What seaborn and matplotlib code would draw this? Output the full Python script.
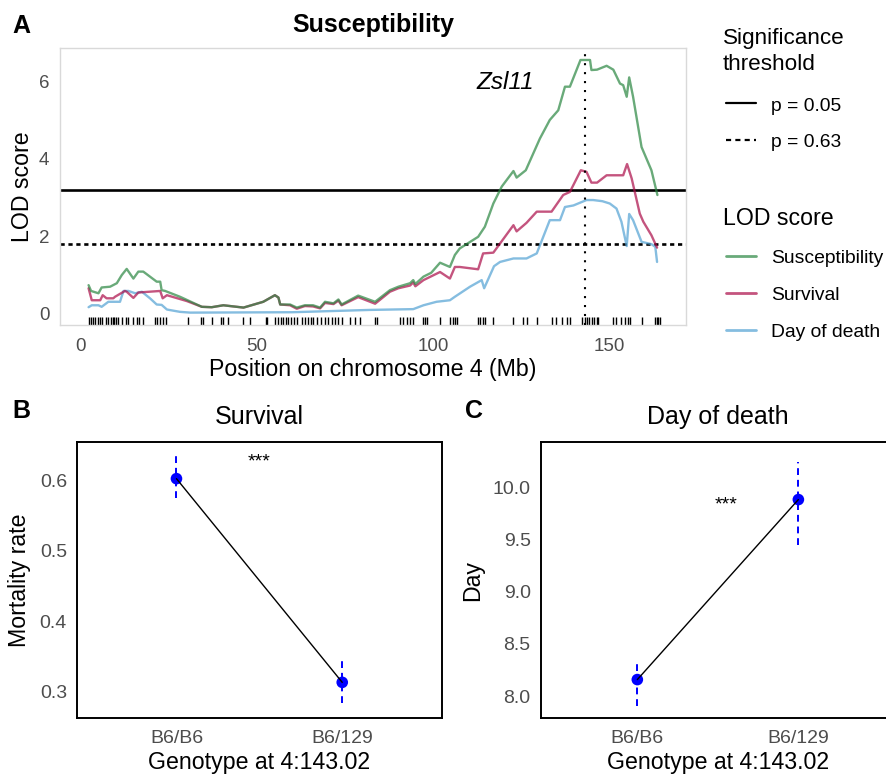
import matplotlib
matplotlib.use("Agg")
import matplotlib.pyplot as plt
import pandas as pd
import seaborn as sns

# ---------------- data ----------------
# LOD curves along chromosome 4 (Mb, LOD)
susc_pos = [2.4, 3.1, 5.2, 6.1, 8.5, 10.4, 11.8, 13.2, 15.1, 16.5, 17.9, 21.7, 22.7, 23.1, 24.1,
            28.3, 34.5, 37.3, 40.6, 46.3, 51.9, 55.2, 56.2, 56.7, 59.5, 61.4, 63.7, 66.0, 68.0,
            69.4, 71.8, 73.2, 74.1, 78.8, 83.6, 87.8, 90.2, 93.5, 94.4, 95.0, 97.3, 99.5, 102.0,
            104.8, 106.2, 107.6, 112.8, 114.7, 117.1, 119.5, 122.8, 123.7, 126.3, 130.3, 133.1,
            135.5, 137.4, 138.8, 141.8, 144.5, 144.9, 146.5, 149.2, 151.1, 153.0, 153.9, 154.9,
            155.6, 156.7, 159.1, 161.9, 163.6]
susc_lod = [0.73, 0.58, 0.52, 0.67, 0.69, 0.78, 0.99, 1.15, 0.90, 1.08, 1.08, 0.82, 0.82, 0.60, 0.58,
            0.43, 0.17, 0.16, 0.21, 0.15, 0.30, 0.47, 0.41, 0.23, 0.23, 0.15, 0.21, 0.21, 0.15,
            0.30, 0.26, 0.36, 0.23, 0.46, 0.30, 0.60, 0.69, 0.78, 0.86, 0.76, 0.95, 1.05, 1.31,
            1.20, 1.51, 1.68, 1.98, 2.24, 2.84, 3.28, 3.68, 3.51, 3.70, 4.52, 5.00,
            5.25, 5.86, 5.86, 6.55, 6.55, 6.29, 6.30, 6.40, 6.30, 5.94, 5.90, 5.60,
            6.10, 5.60, 4.30, 3.70, 3.06]

surv_pos = [2.4, 3.3, 5.7, 6.4, 7.5, 9.4, 9.9, 12.7, 13.2, 15.1, 16.5, 22.7, 23.4, 24.6, 30.2,
            34.5, 37.3, 40.6, 46.3, 51.9, 55.2, 56.2, 56.7, 59.5, 61.4, 63.7, 66.0, 68.0, 69.4,
            71.8, 73.2, 74.1, 78.8, 83.6, 87.8, 90.2, 93.5, 94.4, 95.0, 97.3, 102.0, 104.8, 106.2,
            107.6, 112.8, 114.2, 117.1, 122.8, 123.7, 126.5, 129.4, 133.6, 136.9, 138.8, 141.9,
            143.5, 144.9, 146.5, 149.2, 153.9, 155.0, 156.3, 158.6, 159.6, 161.9, 163.5]
surv_lod = [0.65, 0.34, 0.34, 0.47, 0.39, 0.39, 0.43, 0.58, 0.56, 0.40, 0.54, 0.58, 0.39, 0.47, 0.32,
            0.17, 0.16, 0.21, 0.15, 0.30, 0.47, 0.41, 0.23, 0.21, 0.12, 0.19, 0.18, 0.13, 0.27,
            0.24, 0.33, 0.21, 0.42, 0.25, 0.56, 0.65, 0.72, 0.80, 0.70, 0.86, 1.07, 0.90, 1.20,
            1.20, 1.14, 1.55, 1.57, 2.28, 2.12, 2.34, 2.63, 2.63, 3.06, 3.14, 3.70,
            3.66, 3.38, 3.38, 3.57, 3.57, 3.86, 3.49, 2.58, 2.37, 2.02, 1.70]

dod_pos = [2.4, 3.3, 5.2, 6.1, 8.0, 9.7, 11.3, 12.3, 13.7, 15.6, 17.5, 19.8, 21.7, 23.1, 24.6,
           28.3, 31.2, 60.0, 82.2, 94.4, 97.3, 101.0, 104.8, 106.2, 110.5, 113.8, 114.5, 117.3,
           119.0, 122.8, 126.5, 129.4, 133.1, 136.0, 137.4, 139.8, 143.5, 145.4, 148.0, 150.1,
           152.0, 153.4, 154.9, 155.6, 156.7, 159.1, 161.9, 163.0, 163.5]
dod_lod = [0.16, 0.21, 0.21, 0.17, 0.30, 0.30, 0.30, 0.58, 0.58, 0.52, 0.56, 0.39, 0.23, 0.22, 0.10,
           0.04, 0.02, 0.03, 0.09, 0.11, 0.21, 0.30, 0.34, 0.43, 0.69, 0.86, 0.65, 1.22,
           1.33, 1.42, 1.42, 1.55, 2.41, 2.41, 2.75, 2.79, 2.93, 2.93, 2.90, 2.84,
           2.71, 2.37, 1.74, 2.57, 2.41, 1.85, 1.79, 1.72, 1.33]

# genotyped marker positions (rug)
marker_pos = [2.4, 3.0, 3.7, 4.3, 5.0, 5.7, 6.3, 7.4, 8.0, 8.7, 9.2, 9.6, 10.1, 10.6, 11.8, 13.0,
              13.7, 15.1, 16.1, 16.8, 17.9, 21.3, 21.9, 22.7, 23.4, 24.3, 30.7, 34.3, 34.9, 37.3,
              39.9, 40.6, 42.0, 46.3, 48.2, 52.6, 53.1, 55.2, 56.2, 56.8, 57.6, 58.4, 59.0, 59.7,
              60.6, 61.6, 62.8, 63.7, 64.7, 65.4, 66.1, 67.0, 68.2, 69.4, 70.3, 71.3, 72.1, 73.2,
              74.1, 76.5, 77.9, 79.3, 83.6, 84.0, 90.7, 91.6, 92.5, 93.5, 94.4, 97.1, 97.7, 98.4,
              102.0, 104.8, 105.6, 106.2, 106.7, 112.8, 113.3, 114.1, 114.7, 117.1, 122.8, 125.4,
              126.5, 129.4, 133.6, 135.0, 136.5, 137.9, 138.8, 142.1, 143.1, 143.7, 144.3, 145.0,
              145.6, 146.4, 146.8, 151.1, 152.0, 153.4, 154.4, 155.3, 155.8, 159.1, 162.9, 163.4,
              163.8, 164.3]

thr_values = [3.18, 1.80]
thr_labels = ["p = 0.05", "p = 0.63"]
peak_pos = 143.02

traits = ["Susceptibility", "Survival", "Day of death"]
trait_colors = {"Susceptibility": "#2A8641", "Survival": "#AB0C48", "Day of death": "#52A1D3"}

genotypes = ["B6/B6", "B6/129"]
mortality = [0.602, 0.313]
mortality_lo = [0.574, 0.284]
mortality_hi = [0.638, 0.347]
day_death = [8.16, 9.88]
day_lo = [7.91, 9.45]
day_hi = [8.34, 10.24]

# ---------------- style ----------------
sns.set_style("white")
plt.rcParams['font.family'] = ['Liberation Sans', 'DejaVu Sans']
plt.rcParams['text.color'] = 'black'
plt.rcParams['axes.labelcolor'] = 'black'

W, H = 886, 776
fig = plt.figure(figsize=(W / 100, H / 100), dpi=100)


def add_ax(l, t, r, b):
    # axes from pixel box (left, top, right, bottom)
    return fig.add_axes([l / W, 1 - b / H, (r - l) / W, (b - t) / H])


GREY_TXT = "#4D4D4D"

# ---------------- panel A ----------------
axA = add_ax(60, 48, 686, 325)
lod_df = pd.concat([
    pd.DataFrame({"pos": susc_pos, "lod": susc_lod, "trait": "Susceptibility"}),
    pd.DataFrame({"pos": surv_pos, "lod": surv_lod, "trait": "Survival"}),
    pd.DataFrame({"pos": dod_pos, "lod": dod_lod, "trait": "Day of death"}),
])
axA.axhline(thr_values[0], color="black", lw=1.9, zorder=1)
axA.axhline(thr_values[1], color="black", lw=1.9, ls=(0, (1.6, 1.4)), zorder=1)
sns.lineplot(data=lod_df, x="pos", y="lod", hue="trait",
             hue_order=["Day of death", "Survival", "Susceptibility"],
             palette=trait_colors, estimator=None, lw=1.7, alpha=0.7,
             legend=False, ax=axA, zorder=2)
axA.axvline(peak_pos, color="black", lw=1.5, ls=(0, (1, 3.3)), zorder=3)
sns.rugplot(x=marker_pos, ax=axA, height=0.03, color="black", lw=1.3,
            expand_margins=False)
axA.text(120.4, 5.79, "Zsl11", fontsize=17.5, style="italic", ha="center", va="baseline")

axA.set_xlim(-5.7, 171.7)
axA.set_ylim(-0.30, 6.86)
axA.set_xticks([0, 50, 100, 150])
axA.set_yticks([0, 2, 4, 6])
axA.tick_params(length=0, labelsize=13.5, colors=GREY_TXT)
axA.tick_params(axis="x", pad=9)
axA.tick_params(axis="y", pad=7.7)
for sp in axA.spines.values():
    sp.set_color("#D9D9D9")
    sp.set_linewidth(1.0)
axA.set_xlabel("Position on chromosome 4 (Mb)", fontsize=16.7, labelpad=2.7)
axA.set_ylabel("LOD score", fontsize=16.7, labelpad=3.7)
axA.set_title("Susceptibility", fontsize=18, fontweight="bold", pad=11.7)

# legend (drawn in a pixel-coordinate overlay)
lg = fig.add_axes([0, 0, 1, 1], facecolor="none")
lg.set_xlim(0, W)
lg.set_ylim(H, 0)
lg.axis("off")
lg.text(723, 44, "Significance", fontsize=16.2, va="baseline")
lg.text(723, 70, "threshold", fontsize=16.2, va="baseline")
lg.plot([726, 756], [103.3, 103.3], color="black", lw=1.6)
lg.plot([726, 756], [140, 140], color="black", lw=1.6, ls=(0, (2.3, 1.9)))
lg.text(771.5, 110.7, thr_labels[0], fontsize=13.9, va="baseline")
lg.text(771.5, 147.4, thr_labels[1], fontsize=13.9, va="baseline")
lg.text(723, 225, "LOD score", fontsize=16.7, va="baseline")
for i, t in enumerate(traits):
    yc = 256.3 + i * 36.8
    lg.plot([726, 756], [yc, yc], color=trait_colors[t], lw=2.0, alpha=0.7)
    lg.text(771.5, yc + 7.0, t, fontsize=13.9, va="baseline")

# ---------------- panels B and C ----------------
def effect_panel(ax, means, lo, hi, ylim, yticks, ylabel, title, ypad, star_xy):
    ax.vlines(genotypes, lo, hi, colors="blue", lw=1.4, linestyles=[(0, (3.5, 2.5))], zorder=1)
    sns.scatterplot(x=genotypes, y=means, color="blue", s=70, edgecolor="none", ax=ax, zorder=2)
    sns.lineplot(x=genotypes, y=means, color="black", lw=1.0, sort=False, ax=ax, zorder=3)
    ax.text(star_xy[0], star_xy[1], "***", fontsize=14, ha="center", va="center")
    ax.set_xlim(-0.6, 1.6)
    ax.set_ylim(*ylim)
    ax.set_yticks(yticks)
    for sp in ax.spines.values():
        sp.set_color("black")
        sp.set_linewidth(1.4)
    ax.tick_params(length=4.8, width=0.9, color="#333333", labelsize=14,
                   labelcolor=GREY_TXT, direction="out")
    ax.tick_params(axis="x", pad=3.3)
    ax.tick_params(axis="y", pad=2.4)
    ax.set_xlabel("Genotype at 4:143.02", fontsize=16.7, labelpad=3.5)
    ax.set_ylabel(ylabel, fontsize=16.7, labelpad=ypad)
    ax.set_title(title, fontsize=18, pad=13.2)


axB = add_ax(77, 442, 441.7, 718.3)
effect_panel(axB, mortality, mortality_lo, mortality_hi, (0.262, 0.654),
             [0.3, 0.4, 0.5, 0.6], "Mortality rate", "Survival", 6.0, (0.5, 0.626))
axB.set_yticklabels(["0.3", "0.4", "0.5", "0.6"])

axC = add_ax(540.7, 442, 895, 718.3)
effect_panel(axC, day_death, day_lo, day_hi, (7.79, 10.43),
             [8.0, 8.5, 9.0, 9.5, 10.0], "Day", "Day of death", 6.5, (0.55, 9.83))
axC.set_yticklabels(["8.0", "8.5", "9.0", "9.5", "10.0"])

# panel letters
for letter, x, y in [("A", 12, 33), ("B", 12, 418), ("C", 465, 418)]:
    fig.text(x / W, 1 - y / H, letter, fontsize=18, fontweight="bold", va="baseline")

fig.savefig("out.png", dpi=100)
